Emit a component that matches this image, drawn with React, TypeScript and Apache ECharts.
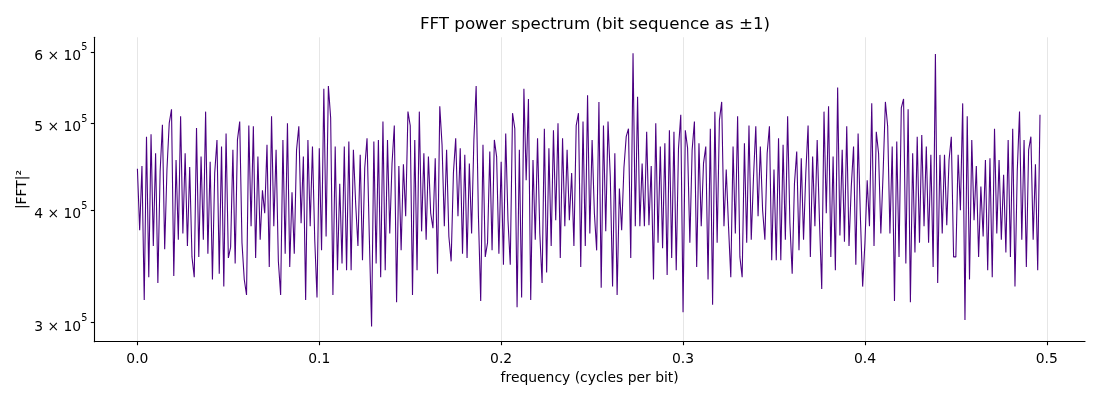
import { useEffect, useRef } from "react";
import * as echarts from "echarts";

// frequency spacing between samples (cycles per bit)
const FREQ_STEP = 0.00125;

// |FFT|^2 values, in thousands, read band by band (0.05 cycles/bit each)
const powerBand0 = [445, 380, 448, 318, 483, 337, 486, 365, 463, 332, 442, 498, 362, 444, 500, 518, 338, 455, 371, 509, 377, 463, 365, 447, 355, 337, 494, 355, 459, 371, 515, 358, 453, 335, 440, 479, 340, 471, 329, 487];
const powerBand1 = [354, 364, 467, 349, 479, 502, 368, 335, 322, 497, 384, 496, 354, 459, 371, 421, 397, 473, 346, 509, 384, 467, 351, 322, 479, 358, 500, 346, 419, 358, 467, 496, 387, 459, 318, 479, 384, 471, 371, 320];
const powerBand2 = [469, 361, 546, 374, 550, 507, 322, 471, 343, 428, 349, 471, 343, 477, 343, 467, 407, 365, 461, 352, 446, 481, 374, 297, 477, 349, 479, 337, 502, 343, 479, 377, 451, 497, 316, 448, 361, 450, 394, 515];
const powerBand3 = [497, 322, 479, 343, 515, 379, 463, 371, 459, 397, 382, 457, 340, 522, 473, 384, 467, 374, 351, 440, 481, 394, 469, 358, 461, 354, 451, 377, 479, 550, 394, 317, 473, 355, 368, 465, 361, 479, 459, 358];
const powerBand4 = [453, 348, 487, 390, 348, 513, 493, 312, 467, 320, 546, 432, 532, 318, 455, 371, 481, 377, 332, 493, 341, 469, 365, 491, 390, 500, 354, 481, 384, 467, 390, 440, 365, 497, 513, 346, 502, 365, 537, 377];
const powerBand5 = [479, 397, 361, 528, 328, 497, 379, 502, 436, 329, 463, 322, 423, 380, 446, 483, 493, 354, 598, 384, 535, 384, 451, 384, 489, 385, 448, 335, 500, 368, 471, 363, 475, 339, 491, 354, 489, 343, 469, 511];
const powerBand6 = [308, 491, 469, 368, 467, 502, 346, 475, 384, 451, 471, 335, 493, 314, 515, 368, 504, 528, 384, 444, 384, 337, 471, 377, 509, 355, 337, 475, 368, 497, 371, 436, 496, 394, 471, 400, 371, 463, 496, 352];
const powerBand7 = [444, 352, 481, 352, 473, 371, 509, 387, 340, 428, 465, 361, 457, 371, 440, 497, 355, 459, 384, 479, 390, 327, 515, 397, 522, 355, 459, 343, 548, 375, 467, 369, 496, 365, 425, 471, 348, 487, 394, 329];
const powerBand8 = [368, 432, 384, 526, 365, 489, 463, 377, 440, 528, 496, 377, 471, 317, 477, 355, 520, 532, 349, 518, 316, 463, 359, 483, 368, 485, 384, 471, 368, 461, 346, 597, 332, 461, 377, 461, 385, 455, 483, 355];
const powerBand9 = [355, 461, 400, 526, 302, 509, 335, 479, 390, 448, 355, 425, 374, 455, 343, 457, 337, 493, 377, 455, 371, 438, 359, 479, 355, 493, 329, 442, 515, 371, 479, 346, 467, 483, 371, 450, 343, 511];

const powerK = [
  ...powerBand0, ...powerBand1, ...powerBand2, ...powerBand3, ...powerBand4,
  ...powerBand5, ...powerBand6, ...powerBand7, ...powerBand8, ...powerBand9,
];

const xTicks = [0, 0.1, 0.2, 0.3, 0.4, 0.5];
const yTicks = [300000, 400000, 500000, 600000];

const Y_MIN = 285700;
const Y_MAX = 623000;

const FONT = "DejaVu Sans";

export default function App() {
  const chartRef = useRef<HTMLDivElement>(null);

  useEffect(() => {
    if (!chartRef.current) return;
    const chart = echarts.init(chartRef.current, null, { renderer: "svg" });

    // y axis is logarithmic: plot log10 of the power on a linear axis
    const data = powerK.map((p, i) => [i * FREQ_STEP, Math.log10(p * 1000)]);
    const yTickLogs = yTicks.map((v) => Math.log10(v));

    chart.setOption({
      animation: false,
      title: {
        text: "FFT power spectrum (bit sequence as ±1)",
        left: 590,
        top: 9,
        textAlign: "center",
        textStyle: { fontFamily: FONT, fontSize: 16.7, fontWeight: "normal", color: "#000" },
      },
      grid: { left: 94.3, right: 15, top: 37.3, bottom: 58.3 },
      xAxis: {
        type: "value",
        min: -0.0237,
        max: 0.521,
        name: "frequency (cycles per bit)",
        nameLocation: "middle",
        nameGap: 27,
        nameTextStyle: { fontFamily: FONT, fontSize: 13.9, color: "#000" },
        axisLine: { onZero: false, lineStyle: { color: "#000", width: 1.1 } },
        axisTick: { customValues: xTicks, length: 3.5, lineStyle: { color: "#000", width: 1.1 } },
        axisLabel: {
          customValues: xTicks,
          margin: 9,
          fontFamily: FONT,
          fontSize: 13.9,
          color: "#000",
          formatter: (v: number) => v.toFixed(1),
        },
        splitLine: { show: true, lineStyle: { color: "#e6e6e6", width: 1 } },
      },
      yAxis: {
        type: "value",
        min: Math.log10(Y_MIN),
        max: Math.log10(Y_MAX),
        name: "|FFT|²",
        nameLocation: "middle",
        nameGap: 66,
        nameMoveOverlap: false,
        nameTextStyle: { fontFamily: FONT, fontSize: 13.9, color: "#000" },
        axisLine: { show: true, onZero: false, lineStyle: { color: "#000", width: 1.1 } },
        axisTick: {
          show: true,
          customValues: yTickLogs,
          length: 3.5,
          lineStyle: { color: "#000", width: 1.1 },
        },
        axisLabel: {
          customValues: yTickLogs,
          margin: 7,
          color: "#000",
          formatter: (v: number) => `{m|${Math.round(Math.pow(10, v) / 1e5)} × 10}{s|5}`,
          rich: {
            m: { fontFamily: FONT, fontSize: 13.9, color: "#000", lineHeight: 20, verticalAlign: "bottom" },
            s: { fontFamily: FONT, fontSize: 9.7, color: "#000", lineHeight: 12, verticalAlign: "top" },
          },
        },
        splitLine: { show: false },
      },
      series: [
        {
          type: "line",
          data,
          showSymbol: false,
          sampling: "none",
          lineStyle: { color: "#4b0082", width: 1.1 },
        },
      ],
    });

    return () => chart.dispose();
  }, []);

  return (
    <div
      ref={chartRef}
      style={{ position: "fixed", left: 0, top: 0, width: 1100, height: 400 }}
    />
  );
}
